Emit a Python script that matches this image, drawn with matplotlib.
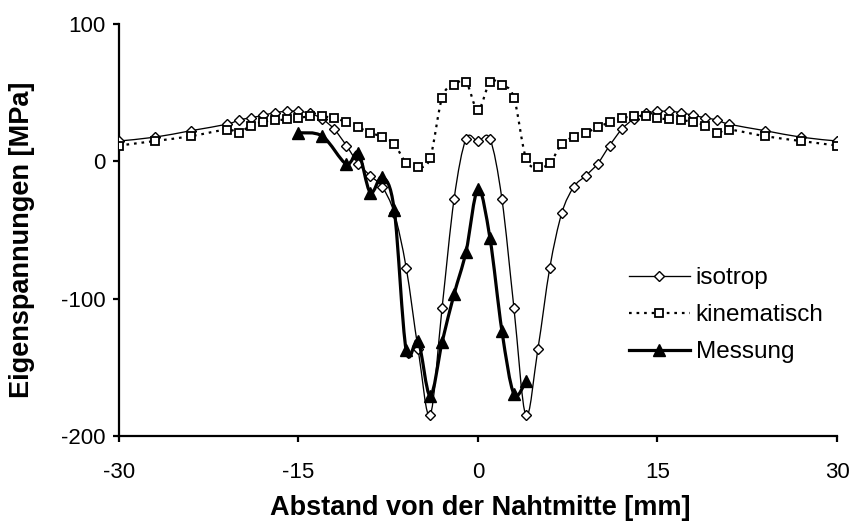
import matplotlib
matplotlib.use("Agg")
import matplotlib.pyplot as plt
from matplotlib.path import Path
from matplotlib.patches import PathPatch
from matplotlib.lines import Line2D

plt.rcParams['font.family'] = ['Liberation Sans', 'DejaVu Sans']
plt.rcParams['axes.unicode_minus'] = False

# isotrop (symmetric about 0)
iso_half_x = [0, 1, 2, 3, 4, 5, 6, 7, 8, 9, 10, 11, 12, 13, 14, 15, 16, 17, 18, 19, 20, 21, 24, 27, 30]
iso_half_y = [14.5, 16.4, -27.5, -106.5, -185, -137, -77.5, -37.7, -18.7, -10.5, -1.7, 11.5, 23.2, 30.8,
              34.9, 36.4, 36.4, 35.4, 33.4, 31.7, 30, 27, 22.3, 17.6, 14.8]

# kinematisch (symmetric about 0)
kin_half_x = [0, 1, 2, 3, 4, 5, 6, 7, 8, 9, 10, 11, 12, 13, 14, 15, 16, 17, 18, 19, 20, 21, 24, 27, 30]
kin_half_y = [37.3, 57.8, 55.6, 46.4, 2.5, -4.4, -1.2, 12.6, 17.8, 20.8, 24.7, 28.5, 31.5, 32.7,
              32.9, 31.5, 30.5, 29.8, 28.8, 26, 20.8, 23.1, 18.3, 14.8, 11.5]

# Messung
mes_x = [-15, -13, -11, -10, -9, -8, -7, -6, -5, -4, -3, -2, -1, 0, 1, 2, 3, 4]
mes_y = [20.8, 18.3, -2, 6.3, -22.8, -11.4, -35.3, -137.7, -131, -170.7, -131.7, -96.8, -65.8,
         -20.2, -56, -123.6, -169.4, -160]

iso_x = [-v for v in iso_half_x[:0:-1]] + iso_half_x
iso_y = iso_half_y[:0:-1] + iso_half_y
kin_x = [-v for v in kin_half_x[:0:-1]] + kin_half_x
kin_y = kin_half_y[:0:-1] + kin_half_y


def smooth_path(xs, ys):
    # Catmull-Rom style Bezier, like a spreadsheet "smoothed line"
    pts = list(zip(xs, ys))
    n = len(pts)
    verts = [pts[0]]
    codes = [Path.MOVETO]
    for i in range(n - 1):
        p0 = pts[i - 1] if i > 0 else pts[i]
        p1 = pts[i]
        p2 = pts[i + 1]
        p3 = pts[i + 2] if i + 2 < n else pts[i + 1]
        c1 = (p1[0] + (p2[0] - p0[0]) / 6, p1[1] + (p2[1] - p0[1]) / 6)
        c2 = (p2[0] - (p3[0] - p1[0]) / 6, p2[1] - (p3[1] - p1[1]) / 6)
        verts += [c1, c2, p2]
        codes += [Path.CURVE4] * 3
    return Path(verts, codes)


fig = plt.figure(figsize=(8.53, 5.24), dpi=100)
ax = fig.add_axes([119 / 853, 88 / 524, 718 / 853, 412 / 524])

ax.add_patch(PathPatch(smooth_path(iso_x, iso_y), fill=False, edgecolor='black', linewidth=0.95, zorder=2))
ax.plot(iso_x, iso_y, linestyle='none', marker='D', markersize=5, markerfacecolor='white',
        markeredgecolor='black', markeredgewidth=1.0, zorder=3)

ax.add_patch(PathPatch(smooth_path(kin_x, kin_y), fill=False, edgecolor='black', linewidth=1.6,
                       linestyle=(0, (1.2, 2.2)), zorder=4))
ax.plot(kin_x, kin_y, linestyle='none', marker='s', markersize=5.5, markerfacecolor='white',
        markeredgecolor='black', markeredgewidth=1.3, zorder=5)

ax.add_patch(PathPatch(smooth_path(mes_x, mes_y), fill=False, edgecolor='black', linewidth=2.3, zorder=6))
ax.plot(mes_x, mes_y, linestyle='none', marker='^', markersize=8, color='black', zorder=7)

ax.set_xlim(-30, 30)
ax.set_ylim(-200, 100)
ax.set_xticks([-30, -15, 0, 15, 30])
ax.set_yticks([-200, -100, 0, 100])
ax.spines['top'].set_visible(False)
ax.spines['right'].set_visible(False)
ax.spines['left'].set_linewidth(1.6)
ax.spines['bottom'].set_linewidth(1.6)
ax.tick_params(direction='out', length=4.5, width=1.6, labelsize=16, pad=5)
ax.tick_params(axis='x', pad=14)

fig.text(480 / 853, 1 - 508 / 524, 'Abstand von der Nahtmitte [mm]', ha='center', va='center',
         fontsize=19.5, fontweight='bold')
fig.text(22 / 853, 1 - 240 / 524, 'Eigenspannungen [MPa]', ha='center', va='center', rotation=90,
         fontsize=19.5, fontweight='bold')

handles = [
    Line2D([], [], color='black', linewidth=0.95, marker='D', markersize=5, markerfacecolor='white',
           markeredgewidth=1.0),
    Line2D([], [], color='black', linewidth=1.6, linestyle=(0, (1.2, 2.2)), marker='s', markersize=5.5,
           markerfacecolor='white', markeredgewidth=1.3),
    Line2D([], [], color='black', linewidth=2.3, marker='^', markersize=8),
]
ax.legend(handles, ['isotrop', 'kinematisch', 'Messung'], loc='upper left',
          bbox_to_anchor=(629 / 853, 1 - 267 / 524), bbox_transform=fig.transFigure,
          frameon=False, fontsize=17.5, handlelength=2.5, handletextpad=0.25, labelspacing=0.62,
          borderaxespad=0, borderpad=0)

fig.savefig('out.png', dpi=100)
